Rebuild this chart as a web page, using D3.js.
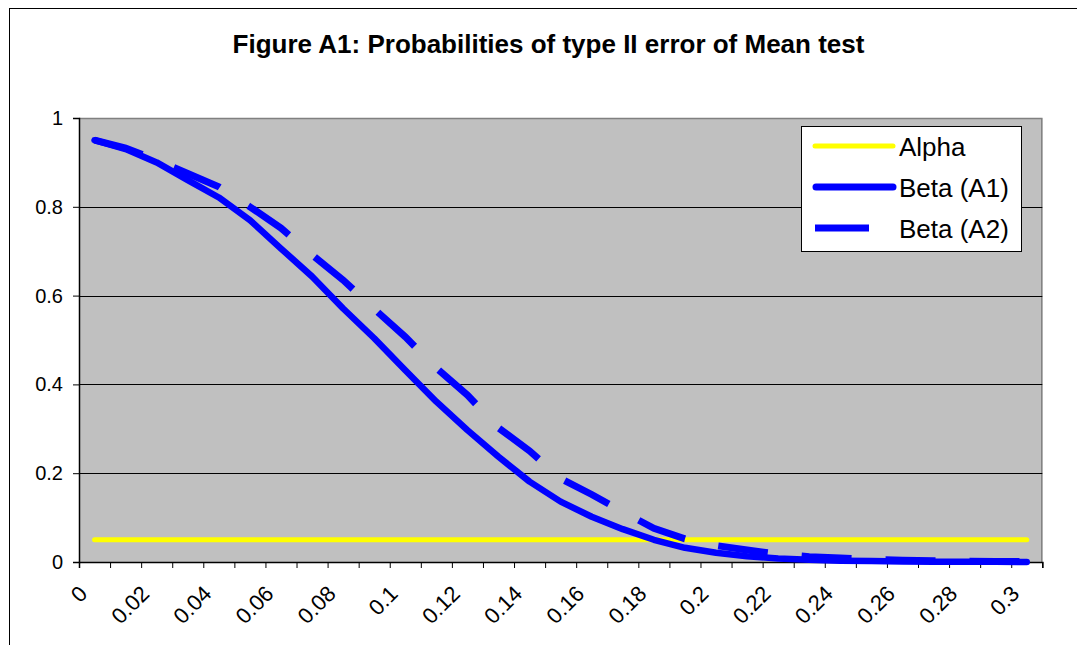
<!DOCTYPE html>
<html>
<head>
<meta charset="utf-8">
<script src="https://cdn.jsdelivr.net/npm/d3@7"></script>
<style>
  html, body { margin: 0; padding: 0; background: #fff; }
  svg { display: block; font-family: "Liberation Sans", Arial, sans-serif; }
</style>
</head>
<body>
<svg id="chart" width="1077" height="645"></svg>
<script>
// ---- data ----
const categories = ["0","0.01","0.02","0.03","0.04","0.05","0.06","0.07","0.08","0.09","0.1",
  "0.11","0.12","0.13","0.14","0.15","0.16","0.17","0.18","0.19","0.2",
  "0.21","0.22","0.23","0.24","0.25","0.26","0.27","0.28","0.29","0.3"];
const alphaValues = [0.05,0.05,0.05,0.05,0.05,0.05,0.05,0.05,0.05,0.05,0.05,
  0.05,0.05,0.05,0.05,0.05,0.05,0.05,0.05,0.05,0.05,
  0.05,0.05,0.05,0.05,0.05,0.05,0.05,0.05,0.05,0.05];
const betaA1 = [0.95,0.93,0.90,0.86,0.821,0.77,0.706,0.643,0.571,0.504,0.432,
  0.361,0.297,0.237,0.181,0.136,0.102,0.074,0.05,0.032,0.021,
  0.013,0.008,0.005,0.003,0.002,0.0012,0.0008,0.0005,0.0003,0.0002];
const betaA2 = [0.95,0.932,0.905,0.875,0.845,0.80,0.752,0.692,0.635,0.57,0.507,
  0.437,0.376,0.302,0.25,0.188,0.152,0.113,0.076,0.052,0.037,
  0.027,0.018,0.012,0.009,0.006,0.004,0.003,0.002,0.001,0.001];
const yTicks = [0, 0.2, 0.4, 0.6, 0.8, 1];
const xLabels = ["0","0.02","0.04","0.06","0.08","0.1","0.12","0.14","0.16","0.18","0.2","0.22","0.24","0.26","0.28","0.3"];
const seriesNames = ["Alpha", "Beta (A1)", "Beta (A2)"];
const title = "Figure A1: Probabilities of type II error of Mean test";

// ---- layout ----
const svg = d3.select("#chart");
const L = 79, R = 1042.3, T = 118, B = 562;

// outer chart border (left/top visible)
svg.append("rect").attr("x", 9.5).attr("y", 8.5).attr("width", 1100).attr("height", 700)
  .attr("fill", "#fff").attr("stroke", "#000").attr("stroke-width", 1);

const x = d3.scaleBand().domain(categories).range([L, R]).paddingInner(0).paddingOuter(0);
const cx = c => x(c) + x.bandwidth() / 2;
const xEdge = d3.scaleLinear().domain([0, categories.length]).range([L, R]);
const y = d3.scaleLinear().domain([0, 1]).range([B, T]);

// plot area
svg.append("rect").attr("x", L).attr("y", T).attr("width", R - L).attr("height", B - T)
  .attr("fill", "#C0C0C0");
// gray border top/right
svg.append("path").attr("d", `M${L},${T + 0.5}H${R - 0.5}V${B}`)
  .attr("fill", "none").attr("stroke", "#808080").attr("stroke-width", 1.5);

// gridlines
svg.append("g").selectAll("line").data(yTicks.filter(d => d > 0 && d < 1)).join("line")
  .attr("x1", L).attr("x2", R).attr("y1", d => Math.round(y(d)) + 0.5).attr("y2", d => Math.round(y(d)) + 0.5)
  .attr("stroke", "#000").attr("stroke-width", 1);

// y axis
const yAxis = svg.append("g").attr("transform", `translate(${L},0)`)
  .call(d3.axisLeft(y).tickValues(yTicks).tickSize(6).tickPadding(10).tickFormat(d3.format("~g")));
yAxis.select(".domain").attr("stroke", "#000").attr("stroke-width", 1.5);
yAxis.selectAll(".tick line").attr("stroke", "#000");
yAxis.selectAll(".tick text").attr("font-size", 20).attr("fill", "#000")
  .attr("font-family", "Liberation Sans, Arial, sans-serif");

// x axis (ticks between categories)
const xAxis = svg.append("g").attr("transform", `translate(0,${B})`)
  .call(d3.axisBottom(xEdge).tickValues(d3.range(0, categories.length + 1)).tickSize(6).tickFormat(""));
xAxis.select(".domain").attr("stroke", "#000").attr("stroke-width", 1.5);
xAxis.selectAll(".tick line").attr("stroke", "#000");

// x labels rotated
svg.append("g").selectAll("text").data(xLabels).join("text")
  .attr("transform", d => `translate(${cx(d) - 6},${595}) rotate(-45)`)
  .attr("text-anchor", "end").attr("font-size", 22).attr("fill", "#000")
  .text(d => d);

// lines
const line = vals => d3.line().x((d, i) => cx(categories[i])).y(d => y(d))(vals);
svg.append("path").attr("d", line(alphaValues)).attr("fill", "none")
  .attr("stroke", "#FFFF00").attr("stroke-width", 5).attr("stroke-linecap", "round");
svg.append("path").attr("d", line(betaA2)).attr("fill", "none")
  .attr("stroke", "#0000FF").attr("stroke-width", 7).attr("stroke-linecap", "butt")
  .attr("stroke-linejoin", "miter").attr("stroke-dasharray", "50,34");
svg.append("path").attr("d", line(betaA1)).attr("fill", "none")
  .attr("stroke", "#0000FF").attr("stroke-width", 6.5).attr("stroke-linecap", "round")
  .attr("stroke-linejoin", "round");

// legend
const lg = svg.append("g");
lg.append("rect").attr("x", 801.5).attr("y", 126.5).attr("width", 220).attr("height", 125)
  .attr("fill", "#fff").attr("stroke", "#000").attr("stroke-width", 1);
const legY = [146, 187, 228];
lg.append("line").attr("x1", 815).attr("x2", 893).attr("y1", legY[0]).attr("y2", legY[0])
  .attr("stroke", "#FFFF00").attr("stroke-width", 5).attr("stroke-linecap", "round");
lg.append("line").attr("x1", 816).attr("x2", 893).attr("y1", legY[1]).attr("y2", legY[1])
  .attr("stroke", "#0000FF").attr("stroke-width", 7).attr("stroke-linecap", "round");
lg.append("line").attr("x1", 815).attr("x2", 869).attr("y1", legY[2]).attr("y2", legY[2])
  .attr("stroke", "#0000FF").attr("stroke-width", 7).attr("stroke-linecap", "butt");
lg.selectAll("text").data(seriesNames).join("text")
  .attr("x", 899).attr("y", (d, i) => legY[i]).attr("dy", "0.38em")
  .attr("font-size", 26).attr("fill", "#000").text(d => d);

// title
svg.append("text").attr("x", 548.5).attr("y", 53).attr("text-anchor", "middle")
  .attr("font-size", 26).attr("font-weight", "bold").attr("fill", "#000").text(title);
</script>
</body>
</html>
